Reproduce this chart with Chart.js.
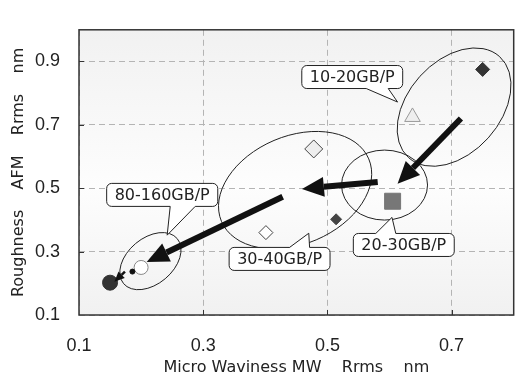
<!DOCTYPE html>
<html>
<head>
<meta charset="utf-8">
<script src="https://cdn.jsdelivr.net/npm/chart.js@4"></script>
<style>
  body { margin: 0; background: #fff; }
  #wrap { width: 526px; height: 377px; }
</style>
</head>
<body>
<div id="wrap"><canvas id="mwChart" width="526" height="377"></canvas></div>
<script>
// measured samples: micro waviness MW (x) vs AFM roughness (y), Rrms in nm
const sampleX = [0.75, 0.637, 0.605, 0.478, 0.514, 0.401, 0.2, 0.186, 0.15];
const sampleY = [0.875, 0.725, 0.459, 0.624, 0.402, 0.36, 0.25, 0.237, 0.202];

// recording density groups
const groupLabels = ["10-20GB/P", "20-30GB/P", "30-40GB/P", "80-160GB/P"];

// trend arrows between groups (data coords)
const arrowFromX = [0.715, 0.581, 0.428, 0.174];
const arrowFromY = [0.72, 0.52, 0.473, 0.237];
const arrowToX = [0.613, 0.459, 0.209, 0.157];
const arrowToY = [0.514, 0.498, 0.267, 0.205];

const xTicks = [0.1, 0.3, 0.5, 0.7];
const yTicks = [0.1, 0.3, 0.5, 0.7, 0.9];

// marker looks, one per sample
const markerStyle = ["rectRot", "triangle", "rect", "rectRot", "rectRot", "rectRot", "circle", "circle", "circle"];
const markerRadius = [7, 9, 11.3, 9, 5.5, 7, 7, 2.5, 7.5];
const markerFill = ["#333", "#eee", "#777", "#eee", "#444", "#fff", "#fff", "#111", "#333"];
const markerLine = ["#333", "#999", "#777", "#444", "#444", "#444", "#888", "#111", "#333"];

// group outlines: center in data, radii px, tilt deg
const groupShapes = [
  { cx: 0.704, cy: 0.756, a: 68, b: 46, tilt: 48 },
  { cx: 0.592, cy: 0.51, a: 43, b: 35, tilt: 0 },
  { cx: 0.448, cy: 0.494, a: 80, b: 54, tilt: 23 },
  { cx: 0.215, cy: 0.27, a: 35, b: 23, tilt: 40 }
];
// callout boxes: center in data, tail tip in data, tail base offsets px
const callouts = [
  { cx: 0.540, cy: 0.851, tx: 0.613, ty: 0.772, base: [14, 36] },
  { cx: 0.623, cy: 0.321, tx: 0.604, ty: 0.408, base: [-28, -8] },
  { cx: 0.423, cy: 0.277, tx: 0.470, ty: 0.358, base: [10, 30] },
  { cx: 0.234, cy: 0.479, tx: 0.242, ty: 0.352, base: [8, 33] }
];

function drawArrow(ctx, x1, y1, x2, y2, shaft, headLen, headW) {
  const ang = Math.atan2(y2 - y1, x2 - x1);
  const bx = x2 - headLen * Math.cos(ang);
  const by = y2 - headLen * Math.sin(ang);
  ctx.lineWidth = shaft;
  ctx.beginPath();
  ctx.moveTo(x1, y1);
  ctx.lineTo(bx, by);
  ctx.stroke();
  const nx = -Math.sin(ang), ny = Math.cos(ang);
  ctx.beginPath();
  ctx.moveTo(x2, y2);
  ctx.lineTo(bx + nx * headW / 2, by + ny * headW / 2);
  ctx.lineTo(bx - nx * headW / 2, by - ny * headW / 2);
  ctx.closePath();
  ctx.fill();
}

function drawCallout(ctx, cx, cy, text, tipX, tipY, base) {
  ctx.font = "16px 'DejaVu Sans'";
  const w = ctx.measureText(text).width + 16, h = 23, r = 5;
  const l = cx - w / 2, t = cy - h / 2, rt = l + w, b = t + h;
  const below = tipY > cy;
  ctx.beginPath();
  ctx.moveTo(l + r, t);
  if (!below) {
    ctx.lineTo(cx + base[0], t);
    ctx.lineTo(tipX, tipY);
    ctx.lineTo(cx + base[1], t);
  }
  ctx.arcTo(rt, t, rt, b, r);
  ctx.arcTo(rt, b, l, b, r);
  if (below) {
    ctx.lineTo(cx + base[1], b);
    ctx.lineTo(tipX, tipY);
    ctx.lineTo(cx + base[0], b);
  }
  ctx.arcTo(l, b, l, t, r);
  ctx.arcTo(l, t, rt, t, r);
  ctx.closePath();
  ctx.fillStyle = "#fff";
  ctx.fill();
  ctx.lineWidth = 1;
  ctx.strokeStyle = "#222";
  ctx.stroke();
  ctx.fillStyle = "#222";
  ctx.textAlign = "center";
  ctx.textBaseline = "middle";
  ctx.fillText(text, cx, cy + 1);
}

const decor = {
  id: "decor",
  beforeDraw(chart) {
    const { ctx, chartArea: a } = chart;
    const g = ctx.createLinearGradient(0, a.top, 0, a.bottom);
    g.addColorStop(0, "#f1f1f1");
    g.addColorStop(0.55, "#fdfdfd");
    g.addColorStop(1, "#f1f1f1");
    ctx.save();
    ctx.fillStyle = g;
    ctx.fillRect(a.left, a.top, a.right - a.left, a.bottom - a.top);
    ctx.restore();
  },
  beforeDatasetsDraw(chart) {
    const { ctx, chartArea: a, scales: { x, y } } = chart;
    ctx.save();
    // frame and inward ticks
    ctx.strokeStyle = "#333";
    ctx.lineWidth = 1.5;
    ctx.strokeRect(a.left, a.top, a.right - a.left, a.bottom - a.top);
    ctx.lineWidth = 1;
    ctx.beginPath();
    xTicks.slice(1).forEach(v => {
      const px = Math.round(x.getPixelForValue(v)) + 0.5;
      ctx.moveTo(px, a.bottom); ctx.lineTo(px, a.bottom - 5);
    });
    yTicks.slice(1).forEach(v => {
      const py = Math.round(y.getPixelForValue(v)) + 0.5;
      ctx.moveTo(a.left, py); ctx.lineTo(a.left + 5, py);
    });
    ctx.stroke();
    // group outlines
    ctx.strokeStyle = "#222";
    groupShapes.forEach(e => {
      ctx.beginPath();
      ctx.ellipse(x.getPixelForValue(e.cx), y.getPixelForValue(e.cy), e.a, e.b, -e.tilt * Math.PI / 180, 0, Math.PI * 2);
      ctx.stroke();
    });
    ctx.restore();
  },
  afterDatasetsDraw(chart) {
    const { ctx, scales: { x, y } } = chart;
    ctx.save();
    ctx.strokeStyle = "#111";
    ctx.fillStyle = "#111";
    arrowFromX.forEach((v, i) => {
      const small = i === 3;
      drawArrow(ctx,
        x.getPixelForValue(v), y.getPixelForValue(arrowFromY[i]),
        x.getPixelForValue(arrowToX[i]), y.getPixelForValue(arrowToY[i]),
        small ? 2.5 : 6, small ? 10 : 22, small ? 9 : 20);
    });
    callouts.forEach((c, i) => {
      drawCallout(ctx, x.getPixelForValue(c.cx), y.getPixelForValue(c.cy), groupLabels[i],
        x.getPixelForValue(c.tx), y.getPixelForValue(c.ty), c.base);
    });
    ctx.restore();
  }
};

const ctx = document.getElementById("mwChart").getContext("2d");
const mwChart = new Chart(ctx, {
  type: "scatter",
  data: {
    datasets: [{
      data: sampleX.map((v, i) => ({ x: v, y: sampleY[i] })),
      pointStyle: markerStyle,
      pointRadius: markerRadius,
      pointHoverRadius: markerRadius,
      pointBackgroundColor: markerFill,
      pointBorderColor: markerLine,
      pointBorderWidth: 1
    }]
  },
  options: {
    responsive: false,
    animation: false,
    events: [],
    layout: { padding: { left: 0, top: 10, right: 7, bottom: 0 } },
    plugins: { legend: { display: false }, tooltip: { enabled: false } },
    scales: {
      x: {
        type: "linear",
        min: 0.1,
        max: 0.8,
        afterBuildTicks: s => { s.ticks = xTicks.map(v => ({ value: v })); },
        afterFit: s => { s.height = 62; },
        grid: { color: "#b4b4b4", drawTicks: false },
        border: { display: false, dash: [6, 4] },
        ticks: { padding: 20, color: "#222", font: { family: "'Liberation Sans'", size: 18 }, callback: v => v.toFixed(1) },
        title: { display: true, text: "Micro Waviness MW    Rrms    nm", color: "#222", padding: 0, font: { family: "'DejaVu Sans'", size: 16 } }
      },
      y: {
        type: "linear",
        min: 0.1,
        max: 1.0,
        afterBuildTicks: s => { s.ticks = yTicks.map(v => ({ value: v })); },
        afterFit: s => { s.width = 79; },
        grid: { color: "#b4b4b4", drawTicks: false },
        border: { display: false, dash: [6, 4] },
        ticks: { padding: 19, color: "#222", font: { family: "'Liberation Sans'", size: 18 }, callback: v => v.toFixed(1) },
        title: { display: true, text: "Roughness    AFM    Rrms    nm", color: "#222", padding: { top: 9, bottom: 0 }, font: { family: "'DejaVu Sans'", size: 16 } }
      }
    }
  },
  plugins: [decor]
});
</script>
</body>
</html>
